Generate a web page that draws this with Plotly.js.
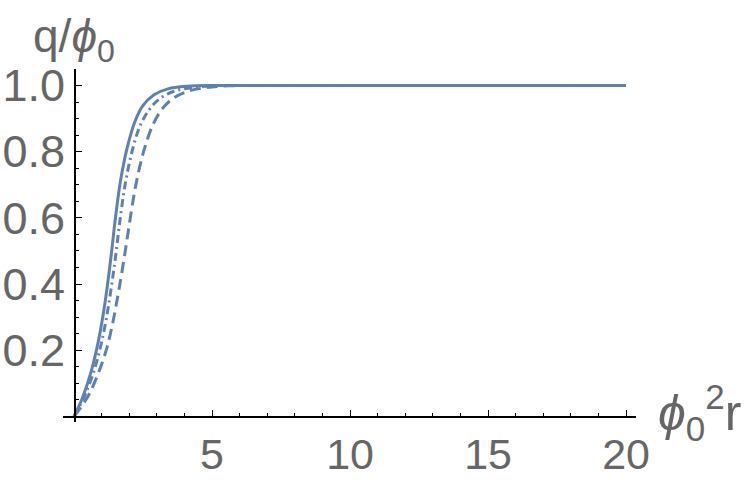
<!DOCTYPE html>
<html>
<head>
<meta charset="utf-8">
<script src="https://cdn.plot.ly/plotly-3.0.1.min.js"></script>
<style>html,body{margin:0;padding:0;background:#fff;}#chart{width:747px;height:480px;}</style>
</head>
<body>
<div id="chart"></div>
<script>
// Solid curve
const solidX = [0, 0.3, 0.6, 0.85, 1.05, 1.2, 1.35, 1.5, 1.68, 1.92, 2.2, 2.5, 2.9, 3.4, 4.1, 5, 6, 8, 12, 16, 20];
const solidY = [0, 0.055, 0.13, 0.215, 0.305, 0.39, 0.49, 0.6, 0.71, 0.81, 0.89, 0.94, 0.972, 0.99, 0.998, 1, 1, 1, 1, 1, 1];
// Dot-dashed curve
const dotdashX = [0, 0.4, 0.75, 1.0, 1.2, 1.35, 1.5, 1.66, 1.85, 2.1, 2.4, 2.75, 3.1, 3.6, 4.2, 5, 6, 8, 12, 20];
const dotdashY = [0, 0.065, 0.145, 0.225, 0.31, 0.39, 0.48, 0.59, 0.70, 0.80, 0.88, 0.93, 0.96, 0.982, 0.993, 0.999, 1, 1, 1, 1];
// Dashed curve
const dashedX = [0, 0.5, 0.9, 1.2, 1.42, 1.62, 1.82, 2.02, 2.24, 2.52, 2.85, 3.2, 3.6, 4.1, 4.8, 5.6, 6.5, 8, 12, 20];
const dashedY = [0, 0.06, 0.135, 0.21, 0.29, 0.38, 0.48, 0.59, 0.70, 0.80, 0.88, 0.93, 0.962, 0.982, 0.994, 0.999, 1, 1, 1, 1];

const xTickVals = [5, 10, 15, 20];
const xTickText = ['5', '10', '15', '20'];
const yTickVals = [0.2, 0.4, 0.6, 0.8, 1.0];
const yTickText = ['0.2', '0.4', '0.6', '0.8', '1.0'];

const color = '#5E81B5';
const xr = [-0.4, 20.36];
const yr = [-0.017, 1.05];

const traces = [
  {x: solidX, y: solidY, mode: 'lines', line: {color: color, width: 3, shape: 'spline', smoothing: 1}},
  {x: dotdashX, y: dotdashY, mode: 'lines', line: {color: color, width: 3, shape: 'spline', smoothing: 1, dash: '8px,4px,2px,4px'}},
  {x: dashedX, y: dashedY, mode: 'lines', line: {color: color, width: 3, shape: 'spline', smoothing: 1, dash: '11px,6px'}}
];

const fam = 'Liberation Sans, Arial, sans-serif';
const grey = '#666666';

const layout = {
  width: 747, height: 480,
  margin: {l: 63, r: 111, t: 69.4, b: 57.7, pad: 0},
  paper_bgcolor: '#fff', plot_bgcolor: '#fff',
  showlegend: false,
  xaxis: {
    range: xr, showgrid: false, zeroline: false,
    anchor: 'free', position: (0 - yr[0]) / (yr[1] - yr[0]),
    showline: true, linecolor: '#000', linewidth: 1.5,
    ticks: 'inside', ticklen: 6, tickwidth: 1, tickcolor: '#000',
    tickmode: 'array', tickvals: xTickVals, ticktext: xTickText,
    minor: {tickmode: 'linear', tick0: 0, dtick: 1, ticklen: 3, tickwidth: 1, tickcolor: '#000', ticks: 'inside'},
    tickfont: {family: fam, size: 43, color: grey}, ticklabelstandoff: 0
  },
  yaxis: {
    range: yr, showgrid: false, zeroline: false,
    anchor: 'free', position: (0 - xr[0]) / (xr[1] - xr[0]),
    showline: true, linecolor: '#000', linewidth: 1.5,
    ticks: 'inside', ticklen: 6, tickwidth: 1, tickcolor: '#000',
    tickmode: 'array', tickvals: yTickVals, ticktext: yTickText,
    minor: {tickmode: 'linear', tick0: 0, dtick: 0.05, ticklen: 3, tickwidth: 1, tickcolor: '#000', ticks: 'inside'},
    tickfont: {family: fam, size: 45, color: grey}, ticklabelstandoff: 0
  },
  annotations: [
    {x: 0, y: yr[1], xref: 'x', yref: 'y', xanchor: 'center', yanchor: 'middle', yshift: 30, showarrow: false,
     text: 'q/<i>ϕ</i><sub>0</sub>', font: {family: fam, size: 46, color: grey}},
    {x: xr[1], y: 0, xref: 'x', yref: 'y', xanchor: 'left', yanchor: 'middle', xshift: 20, yshift: 4, showarrow: false,
     text: '<i>ϕ</i><sub>0</sub><sup>2</sup>r', font: {family: fam, size: 50, color: grey}}
  ]
};

Plotly.newPlot('chart', traces, layout, {displayModeBar: false, staticPlot: true});
</script>
</body>
</html>
